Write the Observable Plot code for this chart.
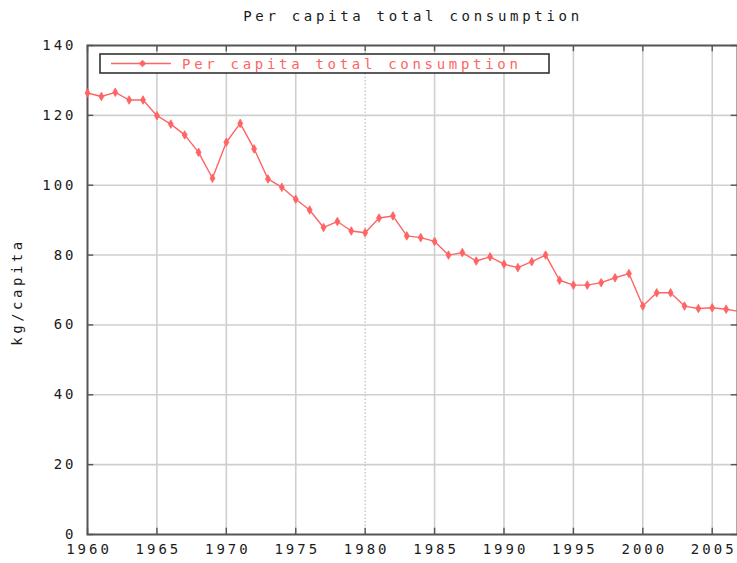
<!DOCTYPE html>
<html><head><meta charset="utf-8">
<script src="https://cdn.jsdelivr.net/npm/d3@7"></script>
<script src="https://cdn.jsdelivr.net/npm/@observablehq/plot@0.6"></script>
<style>body{margin:0;background:#fff} svg{display:block}</style>
</head><body><div id="chart"></div>
<script>
const title = "Per capita total consumption";
const seriesName = "Per capita total consumption";
const yLabel = "kg/capita";
const years = [1960,1961,1962,1963,1964,1965,1966,1967,1968,1969,1970,1971,1972,1973,1974,1975,1976,1977,1978,1979,1980,1981,1982,1983,1984,1985,1986,1987,1988,1989,1990,1991,1992,1993,1994,1995,1996,1997,1998,1999,2000,2001,2002,2003,2004,2005,2006,2007];
const values = [126.4,125.4,126.6,124.4,124.4,119.9,117.5,114.4,109.4,102.0,112.3,117.7,110.4,101.8,99.4,96.0,92.9,87.9,89.6,86.9,86.4,90.6,91.2,85.5,85.0,83.9,80.0,80.7,78.3,79.5,77.4,76.4,78.1,80.0,72.8,71.4,71.4,72.1,73.5,74.7,65.4,69.2,69.2,65.4,64.7,64.9,64.5,63.8];
const xTicks = [1960,1965,1970,1975,1980,1985,1990,1995,2000,2005];
const yTicks = [0,20,40,60,80,100,120,140];
const data = years.map((year, i) => ({year, value: values[i]}));

const font = "DejaVu Sans Mono";
const red = "#ff6464";
const gridColor = "#cfcfcf";
const frameColor = "#555";
const textColor = "#1a1a1a";
const xMin = 1960, xMax = 2006.82;

const plot = Plot.plot({
  width: 737, height: 563,
  marginLeft: 87, marginRight: 0, marginTop: 45, marginBottom: 29,
  style: {fontFamily: font, fontSize: "14px", color: textColor, background: "#fff", letterSpacing: "3px", overflow: "hidden"},
  x: {domain: [xMin, xMax]},
  y: {domain: [0, 140]},
  marks: [
    Plot.ruleX(xTicks.filter(d => d !== 1960 && d !== 1980), {stroke: gridColor, strokeWidth: 1.6}),
    Plot.ruleX([1980], {stroke: "#c4c4c4", strokeWidth: 1.4, strokeDasharray: "1.5,2"}),
    Plot.ruleY(yTicks.filter(d => d > 0 && d < 140), {stroke: gridColor, strokeWidth: 1.6}),
    Plot.ruleX(xTicks, {y1: 0, y2: 1.8, stroke: frameColor, strokeWidth: 1.4}),
    Plot.ruleX(xTicks, {y1: 140, y2: 138.2, stroke: frameColor, strokeWidth: 1.4}),
    Plot.ruleY(yTicks, {x1: xMin, x2: xMin + 0.45, stroke: frameColor, strokeWidth: 1.4}),
    Plot.ruleY(yTicks, {x1: xMax, x2: xMax - 0.45, stroke: frameColor, strokeWidth: 1.4}),
    Plot.axisX({ticks: xTicks, tickSize: 0, tickPadding: 10, label: null, tickFormat: d => String(d), dx: 1.5}),
    Plot.axisY({ticks: yTicks, tickSize: 0, tickPadding: 11, label: null, tickFormat: d => String(d)}),
    Plot.frame({stroke: frameColor, strokeWidth: 2}),
    Plot.line(data, {x: "year", y: "value", stroke: red, strokeWidth: 1.4}),
    Plot.dot(data, {x: "year", y: "value", symbol: "diamond", r: 2.6, fill: red, stroke: red, strokeWidth: 0.8})
  ]
});

const svg = d3.select(plot);
svg.append("text")
  .attr("x", 413).attr("y", 21)
  .attr("text-anchor", "middle")
  .attr("font-family", font).attr("font-size", 14).attr("letter-spacing", "3.7px")
  .attr("fill", textColor)
  .text(title);

svg.append("text")
  .attr("transform", "translate(22,292) rotate(-90)")
  .attr("text-anchor", "middle")
  .attr("font-family", font).attr("font-size", 14).attr("letter-spacing", "3.5px")
  .attr("fill", textColor)
  .text(yLabel);

const lg = svg.append("g");
lg.append("rect").attr("x", 100).attr("y", 54).attr("width", 449).attr("height", 19)
  .attr("fill", "#fff").attr("stroke", "#333").attr("stroke-width", 1.6);
lg.append("line").attr("x1", 111).attr("x2", 171).attr("y1", 63.5).attr("y2", 63.5)
  .attr("stroke", red).attr("stroke-width", 1.4);
lg.append("path").attr("d", d3.symbol(d3.symbolDiamond2, 28)()).attr("transform", "translate(142.5,63.5)")
  .attr("fill", red).attr("stroke", red).attr("stroke-width", 0.8);
lg.append("text").attr("x", 182).attr("y", 68.5)
  .attr("text-anchor", "start")
  .attr("font-family", font).attr("font-size", 14).attr("letter-spacing", "3.7px")
  .attr("fill", red)
  .text(seriesName);

document.getElementById("chart").appendChild(plot);
</script>
</body></html>
